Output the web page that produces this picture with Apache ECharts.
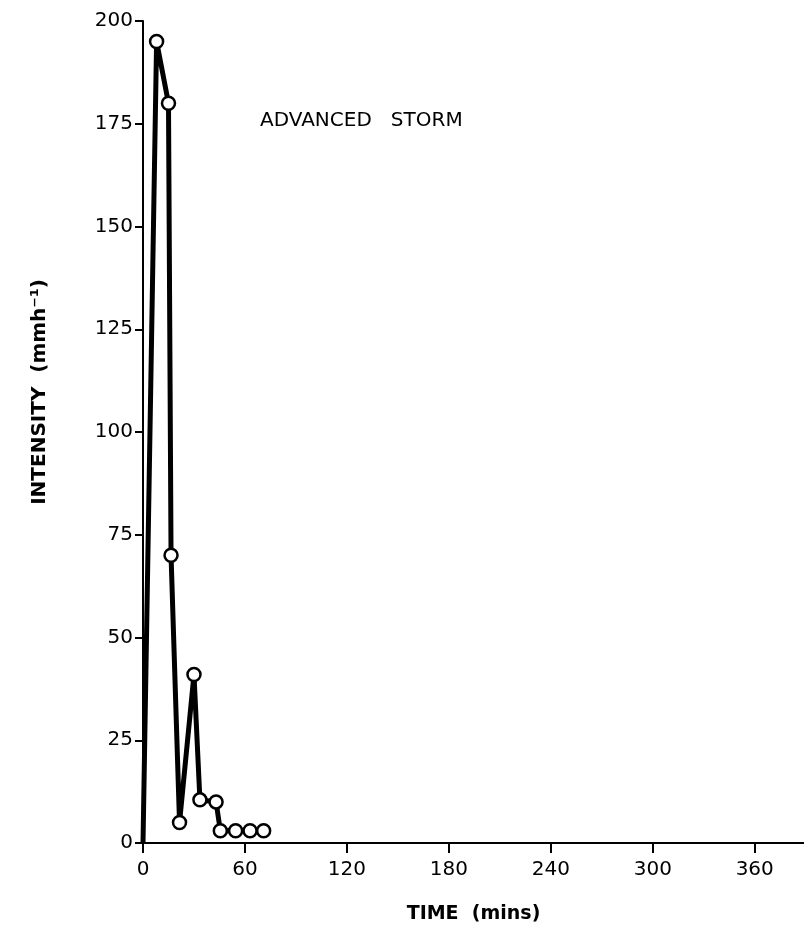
<!DOCTYPE html>
<html>
<head>
<meta charset="utf-8">
<script src="https://cdn.jsdelivr.net/npm/echarts@6/dist/echarts.min.js"></script>
<style>
  html, body { margin: 0; padding: 0; background: #fff; }
  #main { width: 804px; height: 933px; }
</style>
</head>
<body>
<div id="main"></div>
<script>
// storm intensity chart
var chart = echarts.init(document.getElementById('main'));

// minutes since start
var times = [0, 8, 15, 16.5, 21.5, 30, 33.5, 43, 45.5, 54.5, 63, 71];
// intensity mm/h
var intensity = [0, 195, 180, 70, 5, 41, 10.5, 10, 3, 3, 3, 3];
var xTicks = [0, 60, 120, 180, 240, 300, 360];

var pts = [];
for (var i = 0; i < times.length; i++) {
    var p = { value: [times[i], intensity[i]] };
    if (i == 0) p.symbol = 'none';
    pts.push(p);
}

var font = 'DejaVu Sans';

var option = {
    animation: false,
    grid: { left: 143, right: 0, top: 21, bottom: 90 },
    xAxis: {
        type: 'value',
        min: 0,
        max: 389,
        name: 'TIME  (mins)',
        nameLocation: 'middle',
        nameGap: 62,
        nameTextStyle: { color: '#000', fontFamily: font, fontSize: 19, fontWeight: 'bold' },
        splitLine: { show: false },
        axisLine: { show: true, lineStyle: { color: '#000', width: 2 } },
        axisTick: { show: true, customValues: xTicks, length: 10, lineStyle: { color: '#000', width: 2 } },
        axisLabel: { customValues: xTicks, margin: 17, color: '#000', fontFamily: font, fontSize: 20 }
    },
    yAxis: {
        type: 'value',
        min: 0,
        max: 200,
        interval: 25,
        splitLine: { show: false },
        axisLine: { show: true, lineStyle: { color: '#000', width: 2 } },
        axisTick: { show: true, length: 8, lineStyle: { color: '#000', width: 2 } },
        axisLabel: { margin: 10, color: '#000', fontFamily: font, fontSize: 20 }
    },
    graphic: [
        {
            type: 'text',
            x: 40, y: 392,
            rotation: Math.PI / 2,
            style: {
                text: 'INTENSITY  (mmh⁻¹)',
                fill: '#000',
                font: 'bold 20px "DejaVu Sans"',
                align: 'center',
                verticalAlign: 'middle'
            }
        },
        {
            type: 'text',
            x: 260, y: 121,
            style: {
                text: 'ADVANCED   STORM',
                fill: '#000',
                font: '20px "DejaVu Sans"',
                verticalAlign: 'middle'
            }
        }
    ],
    series: [{
        type: 'line',
        data: pts,
        symbol: 'circle',
        symbolSize: 13,
        lineStyle: { color: '#000', width: 5 },
        itemStyle: { color: '#fff', borderColor: '#000', borderWidth: 2.5 },
        z: 3
    }]
};

chart.setOption(option);
</script>
</body>
</html>
